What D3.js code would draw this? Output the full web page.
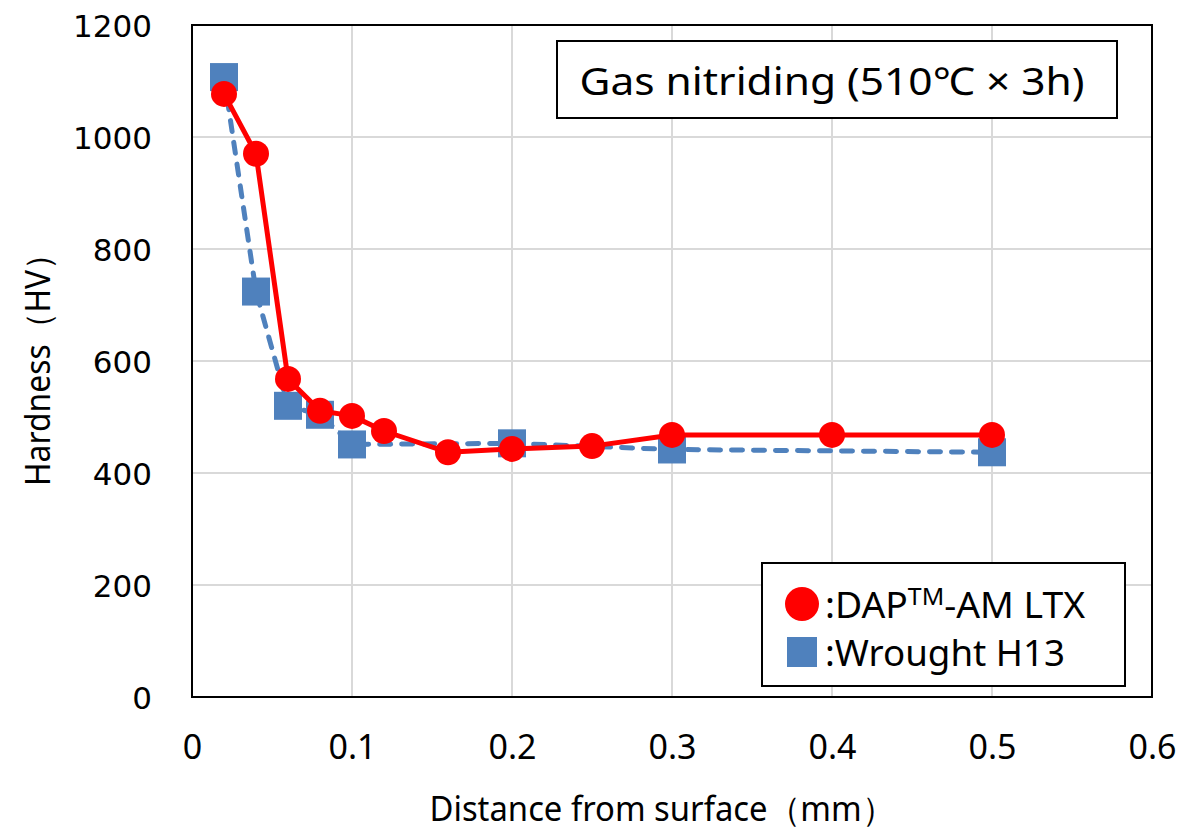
<!DOCTYPE html>
<html>
<head>
<meta charset="utf-8">
<script src="https://cdn.jsdelivr.net/npm/d3@7"></script>
<style>
body{margin:0;background:#fff;}
</style>
</head>
<body>
<div id="plot" style="width:1184px;height:832px;"></div>
<script>
// data
var depthLTX = [0.02,0.04,0.06,0.08,0.1,0.12,0.16,0.2,0.25,0.3,0.4,0.5];
var hvLTX    = [1077,970,568,511,502,475,437,443,448,468,468,468];
var depthH13 = [0.02,0.04,0.06,0.08,0.1,0.2,0.3,0.5];
var hvH13    = [1107,724,520,504,451,453,442,437];
var xTicks = [0,0.1,0.2,0.3,0.4,0.5,0.6];
var yTicks = [0,200,400,600,800,1000,1200];

var margin = {t:25,r:32,b:135,l:192};
var W = 1184, H = 832;
var width = W-margin.l-margin.r,
    height = H-margin.t-margin.b;

var svg = d3.select('#plot').append('svg')
    .attr('width',W).attr('height',H);

var plot = svg.append('g')
    .attr('transform','translate('+margin.l+','+margin.t+')');

var x = d3.scaleLinear().domain([0,0.6]).range([0,width]);
var y = d3.scaleLinear().domain([0,1200]).range([height,0]);

var sans = '"Noto Sans",sans-serif';

// grid
plot.selectAll('.vg').data(xTicks.slice(1,-1)).enter().append('line')
    .attr('x1',d=>x(d)).attr('x2',d=>x(d)).attr('y1',0).attr('y2',height)
    .attr('stroke','#d9d9d9').attr('stroke-width',2);
plot.selectAll('.hg').data(yTicks.slice(1,-1)).enter().append('line')
    .attr('y1',d=>y(d)).attr('y2',d=>y(d)).attr('x1',0).attr('x2',width)
    .attr('stroke','#d9d9d9').attr('stroke-width',2);

// frame
plot.append('rect').attr('width',width).attr('height',height)
    .attr('fill','none').attr('stroke','#000').attr('stroke-width',2);

// axes
var xAxis = plot.append('g').attr('transform','translate(0,'+height+')')
    .call(d3.axisBottom(x).tickValues(xTicks).tickSize(0).tickPadding(38).tickFormat(d=>d));
var yAxis = plot.append('g')
    .call(d3.axisLeft(y).tickValues(yTicks).tickSize(0).tickPadding(40).tickFormat(d3.format('d')));
[xAxis,yAxis].forEach(function(a){ a.select('.domain').remove(); });
xAxis.selectAll('text').attr('font-family',sans).attr('font-size',34).attr('fill','#000');
yAxis.selectAll('text').attr('font-family','"DejaVu Sans",sans-serif').attr('font-size',31).attr('fill','#000').attr('dy','0.36em');

// axis titles
svg.append('text').attr('x',662).attr('y',821)
    .attr('text-anchor','middle').attr('font-family',sans).attr('font-size',34)
    .attr('textLength',465).attr('lengthAdjust','spacingAndGlyphs')
    .text('Distance from surface（mm）');
svg.append('text').attr('transform','translate(50,362) rotate(-90)')
    .attr('text-anchor','middle').attr('font-family',sans).attr('font-size',34)
    .attr('textLength',248).attr('lengthAdjust','spacingAndGlyphs')
    .text('Hardness（HV）');

// lines
var lineLTX = d3.line().x((d,i)=>x(depthLTX[i])).y(d=>y(d));
var lineH13 = d3.line().x((d,i)=>x(depthH13[i])).y(d=>y(d));

plot.append('path').attr('d',lineH13(hvH13)).attr('fill','none')
    .attr('stroke','#4f81bd').attr('stroke-width',5)
    .attr('stroke-dasharray','11,11').attr('stroke-linecap','round');
plot.selectAll('.sq').data(hvH13).enter().append('rect')
    .attr('x',(d,i)=>x(depthH13[i])-14).attr('y',d=>y(d)-14)
    .attr('width',28).attr('height',28).attr('fill','#4f81bd');

plot.append('path').attr('d',lineLTX(hvLTX)).attr('fill','none')
    .attr('stroke','#ff0000').attr('stroke-width',5).attr('stroke-linejoin','round');
plot.selectAll('.dot').data(hvLTX).enter().append('circle')
    .attr('cx',(d,i)=>x(depthLTX[i])).attr('cy',d=>y(d)).attr('r',13)
    .attr('fill','#ff0000');

// title box
svg.append('rect').attr('x',557).attr('y',41).attr('width',560).attr('height',77)
    .attr('fill','#fff').attr('stroke','#000').attr('stroke-width',2);
svg.append('text').attr('x',832).attr('y',95).attr('text-anchor','middle')
    .attr('font-family',sans).attr('font-size',38)
    .attr('textLength',505).attr('lengthAdjust','spacingAndGlyphs')
    .text('Gas nitriding (510℃ × 3h)');

// legend
var lg = svg.append('g');
lg.append('rect').attr('x',762).attr('y',563).attr('width',363).attr('height',123)
    .attr('fill','#fff').attr('stroke','#000').attr('stroke-width',2);
lg.append('circle').attr('cx',802).attr('cy',604).attr('r',17).attr('fill','#ff0000');
lg.append('rect').attr('x',787).attr('y',637).attr('width',30).attr('height',30).attr('fill','#4f81bd');
var t1 = lg.append('text').attr('x',825).attr('y',618)
    .attr('font-family',sans).attr('font-size',36)
    .attr('textLength',260).attr('lengthAdjust','spacingAndGlyphs');
t1.append('tspan').text(':DAP');
t1.append('tspan').attr('font-size',24).attr('dy',-13).text('TM');
t1.append('tspan').attr('dy',13).text('-AM LTX');
lg.append('text').attr('x',825).attr('y',666)
    .attr('font-family',sans).attr('font-size',36)
    .attr('textLength',240).attr('lengthAdjust','spacingAndGlyphs')
    .text(':Wrought H13');
</script>
</body>
</html>
